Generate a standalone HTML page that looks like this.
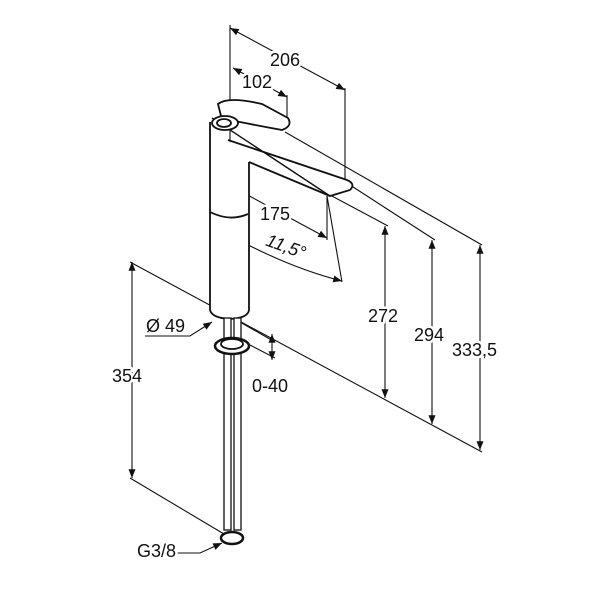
<!DOCTYPE html><html><head><style>body{margin:0;background:#fff}svg{display:block}text{font-family:"Liberation Sans",sans-serif;font-size:18px;fill:#111;stroke:#fff;stroke-width:5px;paint-order:stroke;stroke-linejoin:round}</style></head><body>
<svg width="600" height="600" viewBox="0 0 600 600" xmlns="http://www.w3.org/2000/svg">
<defs><marker id="a" viewBox="0 0 10 10" refX="10" refY="5" markerWidth="8" markerHeight="8" orient="auto-start-reverse"><path d="M0,1 L10,5 L0,9z" fill="#111"/></marker></defs>
<g stroke="#111" stroke-width="1.1" fill="none">
<line x1="230" y1="25" x2="230" y2="240"/>
<line x1="345" y1="88" x2="345" y2="180"/>
<line x1="287" y1="95" x2="287" y2="122"/>
<line x1="327" y1="196" x2="327" y2="240"/>
<line x1="327" y1="196" x2="342" y2="282"/>
<line x1="330" y1="195" x2="388" y2="226"/>
<line x1="350" y1="185" x2="435" y2="240"/>
<line x1="285" y1="132" x2="482" y2="245"/>
<line x1="130" y1="262" x2="482" y2="452"/>
<line x1="130" y1="478" x2="224" y2="534"/>
<line x1="240" y1="322" x2="275" y2="342"/>
<line x1="250" y1="345" x2="275" y2="358"/>
<line x1="230" y1="28" x2="345" y2="90" marker-start="url(#a)" marker-end="url(#a)"/>
<line x1="233" y1="68" x2="287" y2="97" marker-start="url(#a)" marker-end="url(#a)"/>
<line x1="231" y1="186" x2="327" y2="238" marker-start="url(#a)" marker-end="url(#a)"/>
<path d="M231,236 Q290,268 342,281" marker-start="url(#a)" marker-end="url(#a)"/>
<line x1="385" y1="226" x2="385" y2="398" marker-start="url(#a)" marker-end="url(#a)"/>
<line x1="432" y1="240" x2="432" y2="424" marker-start="url(#a)" marker-end="url(#a)"/>
<line x1="480" y1="245" x2="480" y2="450" marker-start="url(#a)" marker-end="url(#a)"/>
<line x1="132" y1="262" x2="132" y2="478" marker-start="url(#a)" marker-end="url(#a)"/>
<line x1="272" y1="334" x2="272" y2="360" marker-start="url(#a)" marker-end="url(#a)"/>
<polyline points="145,336 190,336 212,322" marker-end="url(#a)"/>
<polyline points="175,553 200,553 222,543" marker-end="url(#a)"/>
</g>
<g stroke="#111" stroke-width="1.8" fill="#fff">
<path d="M210,122 L210,310 Q212,318 230,319 Q248,318 249,310 L249,162"/>
<path d="M210,212 Q230,222 248,214" fill="none"/>
<path d="M228,140 L347,180 Q356,184 350,190 L330,196 L249,162" fill="#fff"/>
<line x1="212" y1="118" x2="330" y2="196" stroke-width="1.4"/>
<path d="M218,104 Q228,96 262,104 L288,118 Q293,126 282,130 Q260,126 240,122 L222,120 Z"/>
<ellipse cx="225" cy="123" rx="13" ry="7"/>
<ellipse cx="224" cy="123" rx="7" ry="4"/>
<rect x="224" y="318" width="7" height="212" stroke-width="1.3"/>
<rect x="234" y="318" width="7" height="212" stroke-width="1.3"/>
<ellipse cx="232" cy="346" rx="17" ry="8" stroke-width="2.5"/>
<ellipse cx="232" cy="344" rx="11" ry="5"/>
<ellipse cx="232" cy="538" rx="11" ry="6" stroke-width="2.5"/>
</g>
<text x="270" y="66">206</text>
<text x="242" y="88">102</text>
<text x="260" y="220">175</text>
<text x="266" y="252" transform="rotate(20 285 245)" font-style="italic" font-size="19">11,5°</text>
<text x="368" y="322">272</text>
<text x="414" y="341">294</text>
<text x="452" y="356">333,5</text>
<text x="112" y="382">354</text>
<text x="146" y="332">Ø 49</text>
<text x="252" y="392">0-40</text>
<text x="137" y="557">G3/8</text>
</svg></body></html>
